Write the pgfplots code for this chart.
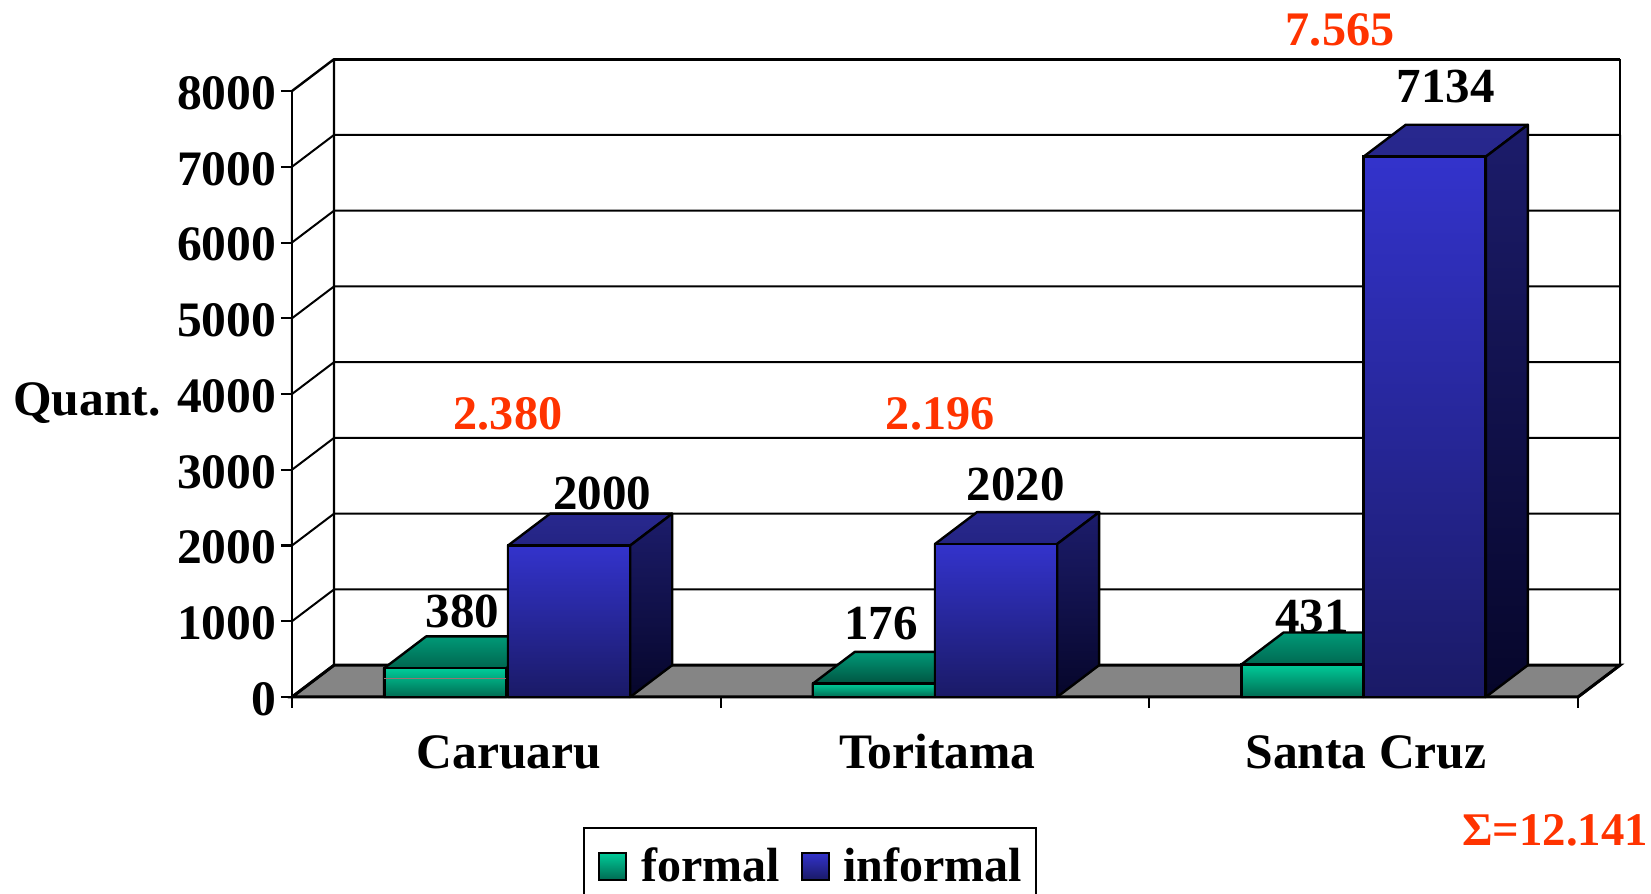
\documentclass[border=0pt]{standalone}
\usepackage{pgfplots}
\pgfplotsset{compat=1.18}
\usepackage{fontspec}
\setmainfont{Liberation Serif}
\newcommand\lab{\fontsize{24.8}{28}\selectfont\bfseries}
\newcommand\vallab{\fontsize{24.5}{28}\selectfont\bfseries}
\newcommand\redfont{\fontsize{24.1}{28}\selectfont\bfseries}
\newcommand\legfont{\fontsize{24}{28}\selectfont\bfseries}
\definecolor{redlab}{HTML}{FF3300}
\definecolor{gfronttop}{HTML}{00CC99}
\definecolor{gfrontbot}{HTML}{006B52}
\definecolor{gtoptop}{HTML}{009977}
\definecolor{gtopbot}{HTML}{00382B}
\definecolor{bfronttop}{HTML}{3333CC}
\definecolor{bfrontbot}{HTML}{1A1A66}
\definecolor{btoptop}{HTML}{28288F}
\definecolor{btopbot}{HTML}{11114A}
\definecolor{bsidetop}{HTML}{1C1C6B}
\definecolor{bsidebot}{HTML}{06062A}
\pgfplotsset{
  gtopface/.style={forget plot,draw=black,line width=1.2pt,line join=round,top color=gtoptop,bottom color=gtopbot},
  btopface/.style={forget plot,draw=black,line width=1.2pt,line join=round,top color=btoptop,bottom color=btopbot},
  bsideface/.style={forget plot,draw=black,line width=1.2pt,line join=round,top color=bsidetop,bottom color=bsidebot},
  squareleg/.style={legend image code/.code={\draw[draw=black,line width=1pt,##1] (0pt,1pt) rectangle (13.5pt,14.5pt);}},
}
\begin{document}
\begin{tikzpicture}
\path[use as bounding box] (0,0) rectangle (825.5pt,447pt);
\begin{axis}[
  at={(146pt,98.5pt)},anchor=south west,
  scale only axis,width=643pt,height=303pt,
  xmin=-0.5,xmax=2.5,ymin=0,ymax=8000,
  clip=false,
  axis lines=left,
  axis line style={-,line width=1.4pt,black},
  xtick={0,1,2},
  xticklabels={Caruaru,Toritama,Santa Cruz},
  minor xtick={-0.5,0.5,1.5,2.5},
  ytick={0,1000,2000,3000,4000,5000,6000,7000,8000},
  yticklabel style={/pgf/number format/assume math mode=true,/pgf/number format/fixed,/pgf/number format/1000 sep={},font=\lab,inner sep=0pt,xshift=-2.1pt,yshift=-1pt},
  xticklabel style={font=\lab,inner sep=0pt,yshift=-13pt,xshift=1.2pt,text height=17pt,text depth=0pt},
  tick style={black,line width=1pt},
  major x tick style={draw=none},
  minor x tick style={draw=black,line width=1pt},
  minor tick length=5.5pt,
  major tick length=5.5pt,
  tick align=outside,
  ylabel={Quant.},
  ylabel style={font=\lab,rotate=-90,at={(axis description cs:-0.1594,0.485)},anchor=center,inner sep=0pt},
  legend style={at={(axis description cs:0.2263,-0.2145)},anchor=north west,draw=black,line width=1pt,
    legend columns=2,inner xsep=7pt,inner ysep=10pt,font=\legfont,
    nodes={inner sep=0pt,anchor=base west},
    /tikz/column 1/.style={column sep=7pt},
    /tikz/column 2/.style={column sep=10.5pt},
    /tikz/column 3/.style={column sep=7pt},
    },
  legend cell align=left,
]
% floor
\addplot[forget plot,fill=black!48,draw=black,line width=1.5pt] coordinates {(-0.5,0)(-0.402,420)(2.598,420)(2.5,0)} \closedcycle;
% walls, grid lines and their diagonals
\addplot[forget plot,black,line width=1pt,line join=round] coordinates {
 (-0.5,1000)(-0.402,1420)(2.598,1420)(2.598,2420)(-0.402,2420)(-0.5,2000)
 (-0.5,3000)(-0.402,3420)(2.598,3420)(2.598,4420)(-0.402,4420)(-0.5,4000)
 (-0.5,5000)(-0.402,5420)(2.598,5420)(2.598,6420)(-0.402,6420)(-0.5,6000)
 (-0.5,7000)(-0.402,7420)(2.598,7420)(2.598,420)};
\addplot[forget plot,black,line width=1.2pt,line join=round] coordinates {(-0.5,8000)(-0.402,8420)(-0.402,420)};
\addplot[forget plot,black,line width=1pt] coordinates {(2.598,8420)(2.598,7420)};
\addplot[forget plot,black,line width=1.6pt] coordinates {(-0.402,8420)(2.598,8420)};
\addplot[forget plot,black,line width=1.2pt] coordinates {(-0.5,0)(-0.402,420)};
\addplot[forget plot,black,line width=1.2pt] coordinates {(2.5,0)(2.598,420)};
% formal: top faces and bars
\addplot[gtopface] coordinates {(-0.285,380)(-0.187,800)(0.098,800)(0,380)} \closedcycle;
\addplot[gtopface] coordinates {(0.715,176)(0.813,596)(1.098,596)(1,176)} \closedcycle;
\addplot[gtopface] coordinates {(1.715,431)(1.813,851)(2.098,851)(2,431)} \closedcycle;
\addplot[forget plot,ybar,bar width=61pt,bar shift=-30.5pt,draw=black,line width=1.2pt,top color=gfronttop,bottom color=gfrontbot] coordinates {(0,380)};
\addplot[forget plot,ybar,bar width=61pt,bar shift=-30.5pt,draw=black,line width=1.2pt,top color=gfronttop,bottom color=gfrontbot] coordinates {(1,176)};
\addplot[squareleg,ybar,bar width=61pt,bar shift=-30.5pt,draw=black,line width=1.2pt,top color=gfronttop,bottom color=gfrontbot] coordinates {(2,431)};
\addlegendentry{formal}
\addplot[forget plot,color=black!40!pink,line width=0.5pt] coordinates {(-0.285,250)(0,250)};
% informal: top faces, side faces and bars
\addplot[btopface] coordinates {(0.004,2000)(0.102,2420)(0.387,2420)(0.289,2000)} \closedcycle;
\addplot[bsideface] coordinates {(0.289,0)(0.387,420)(0.387,2420)(0.289,2000)} \closedcycle;
\addplot[btopface] coordinates {(1,2020)(1.098,2440)(1.383,2440)(1.285,2020)} \closedcycle;
\addplot[bsideface] coordinates {(1.285,0)(1.383,420)(1.383,2440)(1.285,2020)} \closedcycle;
\addplot[btopface] coordinates {(2,7134)(2.098,7554)(2.383,7554)(2.285,7134)} \closedcycle;
\addplot[bsideface] coordinates {(2.285,0)(2.383,420)(2.383,7554)(2.285,7134)} \closedcycle;
\addplot[forget plot,ybar,bar width=61pt,bar shift=30.5pt,draw=black,line width=1.2pt,top color=bfronttop,bottom color=bfrontbot] coordinates {(0.004,2000)};
\addplot[forget plot,ybar,bar width=61pt,bar shift=30.5pt,draw=black,line width=1.2pt,top color=bfronttop,bottom color=bfrontbot] coordinates {(1,2020)};
\addplot[squareleg,ybar,bar width=61pt,bar shift=30.5pt,draw=black,line width=1.2pt,top color=bfronttop,bottom color=bfrontbot] coordinates {(2,7134)};
\addlegendentry{informal}
% value labels
\node[font=\vallab,anchor=base,inner sep=0pt] at (axis cs:-0.1023,915) {380};
\node[font=\vallab,anchor=base,inner sep=0pt] at (axis cs:0.2243,2470) {2000};
\node[font=\vallab,anchor=base,inner sep=0pt] at (axis cs:0.874,755) {176};
\node[font=\vallab,anchor=base,inner sep=0pt] at (axis cs:1.188,2590) {2020};
\node[font=\vallab,anchor=base,inner sep=0pt] at (axis cs:1.8795,845) {431};
\node[font=\vallab,anchor=base,inner sep=0pt] at (axis cs:2.191,7850) {7134};
\node[font=\redfont,anchor=base,inner sep=0pt,text=redlab] at (axis cs:0.004,3525) {2.380};
\node[font=\redfont,anchor=base,inner sep=0pt,text=redlab] at (axis cs:1.012,3525) {2.196};
\node[font=\redfont,anchor=base,inner sep=0pt,text=redlab] at (axis cs:1.945,8607) {7.565};
\node[font=\legfont,anchor=base,inner sep=0pt,text=redlab] at (axis cs:2.4465,-1954) {\fontsize{23.4}{28}\selectfont Σ=12.141};
\end{axis}
\end{tikzpicture}
\end{document}
